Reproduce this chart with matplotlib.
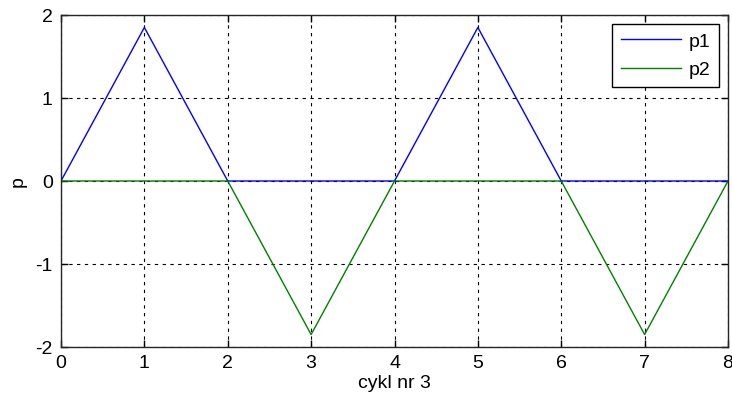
import matplotlib
matplotlib.use("Agg")
import matplotlib.pyplot as plt

cycles = [0, 1, 2, 3, 4, 5, 6, 7, 8]
p1 = [0, 1.85, 0, 0, 0, 1.85, 0, 0, 0]
p2 = [0, 0, 0, -1.85, 0, 0, 0, -1.85, 0]
x_ticks = [0, 1, 2, 3, 4, 5, 6, 7, 8]
y_ticks = [-2, -1, 0, 1, 2]

plt.rcParams['font.family'] = ['Liberation Sans', 'DejaVu Sans']
plt.rcParams['axes.unicode_minus'] = False

fig = plt.figure(figsize=(7.32, 4.06), dpi=100)
ax = fig.add_axes([61/732, 1 - 348/406, (728 - 61)/732, (348 - 16)/406])

ax.plot(cycles, p1, color='#0000ff', lw=1.0, label='p1')
ax.plot(cycles, p2, color='#008000', lw=1.0, label='p2')

ax.set_xlim(0, 8)
ax.set_ylim(-2, 2)
ax.set_xticks(x_ticks)
ax.set_yticks(y_ticks)
ax.tick_params(direction='in', length=5, labelsize=14, top=True, right=True, width=1)
ax.tick_params(axis='x', pad=5)
ax.tick_params(axis='y', pad=6)
ax.grid(True, color='black', linestyle=(0, (3, 4)), linewidth=0.8)
for s in ax.spines.values():
    s.set_linewidth(1.0)
    s.set_color('#262626')

ax.set_xlabel('cykl nr 3', fontsize=14, labelpad=2)
ax.set_ylabel('p', fontsize=14, labelpad=6)

leg = ax.legend(loc='upper right', fontsize=14, fancybox=False, edgecolor='black',
                framealpha=1, handlelength=3.1, handletextpad=0.4,
                labelspacing=0.55, borderpad=0.45, borderaxespad=0.45)
leg.get_frame().set_linewidth(1.0)

fig.savefig('out.png', dpi=100)
